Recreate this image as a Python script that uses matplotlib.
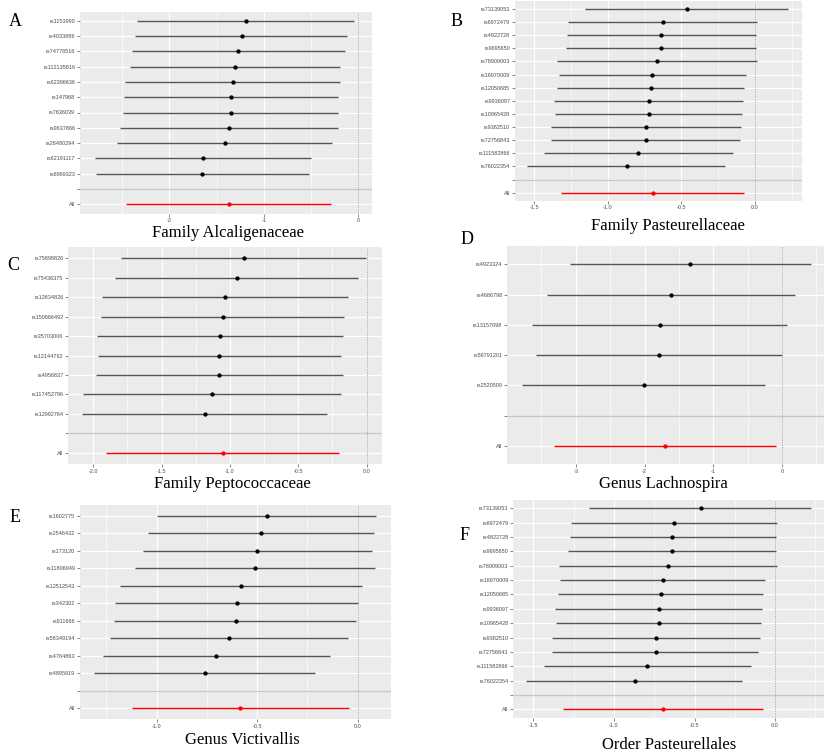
import matplotlib
matplotlib.use("Agg")
import matplotlib.pyplot as plt
import numpy as np

# ---------------- data ----------------
A_snps = ["rs1153990", "rs4033886", "rs74776516", "rs112135816", "rs62396636", "rs147968",
          "rs7636039", "rs9637866", "rs28480294", "rs62191117", "rs6969323"]
A_b = [-1.19, -1.23, -1.27, -1.30, -1.33, -1.35, -1.35, -1.37, -1.41, -1.64, -1.65]
A_lo = [-2.34, -2.36, -2.40, -2.42, -2.47, -2.48, -2.49, -2.52, -2.55, -2.79, -2.78]
A_hi = [-0.05, -0.12, -0.14, -0.19, -0.19, -0.22, -0.22, -0.22, -0.28, -0.50, -0.52]
A_all = (-1.37, -2.455, -0.29)
A_ticks = [-2, -1, 0]
A_ticklabels = ["-2", "-1", "0"]

B_snps = ["rs73139053", "rs6972479", "rs4822728", "rs9695650", "rs78909003", "rs16970009",
          "rs12050685", "rs9936097", "rs10965428", "rs9382510", "rs72756843", "rs111582866",
          "rs76022354"]
B_b = [-0.462, -0.627, -0.638, -0.640, -0.665, -0.697, -0.708, -0.722, -0.722, -0.740,
       -0.742, -0.792, -0.869]
B_lo = [-1.154, -1.267, -1.276, -1.283, -1.342, -1.333, -1.346, -1.364, -1.357, -1.387,
        -1.385, -1.432, -1.545]
B_hi = [0.226, 0.011, 0.007, 0.005, 0.011, -0.061, -0.072, -0.084, -0.088, -0.095,
        -0.104, -0.152, -0.204]
B_all = (-0.695, -1.317, -0.075)
B_ticks = [-1.5, -1.0, -0.5, 0.0]
B_ticklabels = ["-1.5", "-1.0", "-0.5", "0.0"]

C_snps = ["rs75898826", "rs75436375", "rs12634826", "rs150666492", "rs35703006",
          "rs12144792", "rs4956837", "rs117452796", "rs12992764"]
C_b = [-0.898, -0.951, -1.039, -1.051, -1.071, -1.080, -1.080, -1.129, -1.185]
C_lo = [-1.798, -1.839, -1.939, -1.944, -1.971, -1.966, -1.980, -2.076, -2.080]
C_hi = [-0.007, -0.061, -0.139, -0.163, -0.171, -0.190, -0.176, -0.190, -0.290]
C_all = (-1.054, -1.905, -0.205)
C_ticks = [-2.0, -1.5, -1.0, -0.5, 0.0]
C_ticklabels = ["-2.0", "-1.5", "-1.0", "-0.5", "0.0"]

D_snps = ["rs4923324", "rs4686798", "rs13157098", "rs56791201", "rs2520509"]
D_b = [-1.332, -1.614, -1.779, -1.794, -2.008]
D_lo = [-3.087, -3.413, -3.632, -3.578, -3.777]
D_hi = [0.418, 0.185, 0.078, 0.0, -0.243]
D_all = (-1.706, -3.311, -0.092)
D_ticks = [-3, -2, -1, 0]
D_ticklabels = ["-3", "-2", "-1", "0"]

E_snps = ["rs1602775", "rs2546432", "rs173120", "rs11806949", "rs12512543", "rs342302",
          "rs911666", "rs58349194", "rs4764863", "rs4895919"]
E_b = [-0.453, -0.479, -0.499, -0.511, -0.580, -0.602, -0.607, -0.642, -0.705, -0.760]
E_lo = [-0.998, -1.041, -1.066, -1.106, -1.181, -1.206, -1.212, -1.231, -1.269, -1.310]
E_hi = [0.091, 0.081, 0.071, 0.086, 0.020, 0.0, -0.008, -0.046, -0.138, -0.211]
E_all = (-0.585, -1.123, -0.045)
E_ticks = [-1.0, -0.5, 0.0]
E_ticklabels = ["-1.0", "-0.5", "0.0"]

F_snps = B_snps
F_b = B_b
F_lo = B_lo
F_hi = B_hi
F_all = B_all
F_ticks = B_ticks
F_ticklabels = B_ticklabels

titles = ["Family Alcaligenaceae", "Family Pasteurellaceae", "Family Peptococcaceae",
          "Genus Lachnospira", "Genus Victivallis", "Order Pasteurellales"]
letters = ["A", "B", "C", "D", "E", "F"]

# ---------------- figure ----------------
W, H = 824, 755
fig = plt.figure(figsize=(W / 100, H / 100), dpi=100)
fig.patch.set_facecolor("white")


def px_axes(left, top, right, bottom):
    return fig.add_axes([left / W, 1 - bottom / H, (right - left) / W, (bottom - top) / H])


def forest(ax, snps, b, lo, hi, allv, ticks, ticklabels, xlim):
    n = len(snps)
    ys = np.arange(n + 2, 2, -1)  # top SNP first
    ax.set_facecolor("#EBEBEB")
    for s in ax.spines.values():
        s.set_visible(False)
    ax.set_xlim(*xlim)
    ax.set_ylim(0.4, n + 2.6)
    # grid
    ax.set_xticks(ticks)
    ax.set_xticklabels(ticklabels)
    step = ticks[1] - ticks[0]
    minors = [t + step / 2 for t in [ticks[0] - step] + list(ticks)]
    minors = [m for m in minors if xlim[0] < m < xlim[1]]
    ax.set_xticks(minors, minor=True)
    yt = list(ys) + [2, 1]
    ax.set_yticks(yt)
    ax.set_yticklabels(list(snps) + ["", "All"])
    ax.grid(which="major", color="white", lw=0.9)
    ax.grid(which="minor", axis="x", color="white", lw=0.45)
    ax.set_axisbelow(True)
    ax.tick_params(axis="both", which="major", length=2, width=0.5, color="#555555",
                   labelsize=4.0, labelcolor="#4D4D4D", pad=1.5)
    ax.tick_params(axis="both", which="minor", length=0)
    for lab in ax.get_xticklabels() + ax.get_yticklabels():
        lab.set_family("Liberation Sans")
    # separator and zero line
    ax.axhline(2, color="#C8C8C8", lw=1.0, zorder=1.5)
    ax.axvline(0, color="#8C8C8C", lw=0.6, ls=(0, (1, 1)), zorder=1.6)
    # SNP estimates
    ax.hlines(ys, lo, hi, color="#555555", lw=1.0, zorder=2)
    ax.plot(b, ys, "o", color="black", ms=2.1, zorder=3)
    # overall
    ax.hlines([1], [allv[1]], [allv[2]], color="#FF0000", lw=1.0, zorder=2)
    ax.plot([allv[0]], [1], "o", color="#FF0000", ms=2.1, zorder=3)


panels = [
    (A_snps, A_b, A_lo, A_hi, A_all, A_ticks, A_ticklabels, (-2.945, 0.145), (80, 11.5, 372, 213.5)),
    (B_snps, B_b, B_lo, B_hi, B_all, B_ticks, B_ticklabels, (-1.629, 0.317), (515, 1.1, 801.7, 200.6)),
    (C_snps, C_b, C_lo, C_hi, C_all, C_ticks, C_ticklabels, (-2.183, 0.110), (68.3, 246.7, 381.7, 464.3)),
    (D_snps, D_b, D_lo, D_hi, D_all, D_ticks, D_ticklabels, (-3.996, 0.61), (507.3, 246.2, 824, 464.1)),
    (E_snps, E_b, E_lo, E_hi, E_all, E_ticks, E_ticklabels, (-1.381, 0.164), (80, 505.2, 390.7, 718.8)),
    (F_snps, F_b, F_lo, F_hi, F_all, F_ticks, F_ticklabels, (-1.625, 0.304), (513.3, 499.7, 824, 717.9)),
]

for p in panels:
    snps, b, lo, hi, allv, ticks, tl, xlim, box = p
    ax = px_axes(*box)
    forest(ax, snps, b, lo, hi, allv, ticks, tl, xlim)

title_pos = [(228, 233), (667.5, 226), (232.5, 484.3), (663.8, 484.3), (242, 740), (668.7, 745)]
letter_pos = [(15, 22), (457, 22), (13, 265), (467, 240), (15, 518), (465, 535)]

for t, (x, y) in zip(titles, title_pos):
    fig.text(x / W, 1 - y / H, t, ha="center", va="center", fontsize=12,
             family="Liberation Serif", color="black")
for t, (x, y) in zip(letters, letter_pos):
    fig.text(x / W, 1 - y / H, t, ha="center", va="center", fontsize=13,
             family="Liberation Serif", color="black")

fig.savefig("out.png", dpi=100, facecolor="white")
